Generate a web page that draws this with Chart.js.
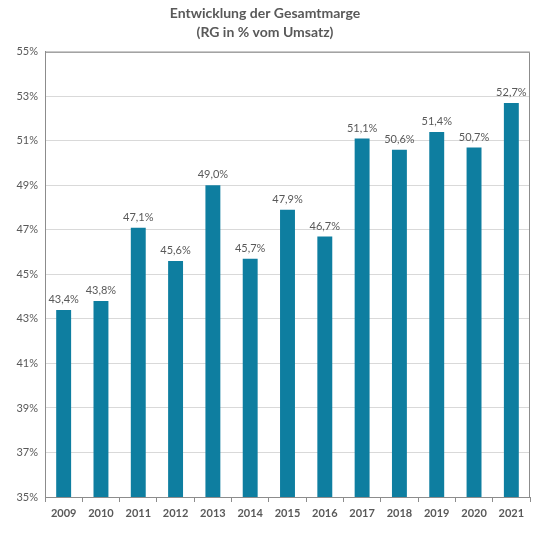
<!DOCTYPE html>
<html>
<head>
<meta charset="utf-8">
<script src="https://cdn.jsdelivr.net/npm/chart.js@4"></script>
<style>
  html, body { margin: 0; padding: 0; background: #fff; }
  #wrap { width: 540px; height: 543px; }
</style>
</head>
<body>
<div id="wrap"><canvas id="margeChart"></canvas></div>
<script>
// Werte
const years = ['2009', '2010', '2011', '2012', '2013', '2014', '2015', '2016', '2017', '2018', '2019', '2020', '2021'];
const marge = [43.4, 43.8, 47.1, 45.6, 49.0, 45.7, 47.9, 46.7, 51.1, 50.6, 51.4, 50.7, 52.7];
const titleLines = ['Entwicklung der Gesamtmarge', '(RG in % vom Umsatz)'];

const textGray = '#595959';
const fmt = v => v.toFixed(1).replace('.', ',') + '%';

// Werte über den Balken
const barLabels = {
    id: 'barLabels',
    afterDatasetsDraw(chart) {
        const ctx = chart.ctx;
        const meta = chart.getDatasetMeta(0);
        ctx.save();
        ctx.font = '11px Lato';
        ctx.fillStyle = textGray;
        ctx.textAlign = 'center';
        ctx.textBaseline = 'bottom';
        meta.data.forEach((bar, i) => {
            ctx.fillText(fmt(marge[i]), bar.x, bar.y - 5);
        });
        ctx.restore();
    }
};

// Rahmen oben und rechts
const frame = {
    id: 'frame',
    afterDraw(chart) {
        const { ctx, chartArea: a } = chart;
        ctx.save();
        ctx.strokeStyle = '#8c8c8c';
        ctx.lineWidth = 1;
        ctx.beginPath();
        ctx.moveTo(a.left, a.top + 0.5);
        ctx.lineTo(a.right - 0.5, a.top + 0.5);
        ctx.lineTo(a.right - 0.5, a.bottom);
        ctx.stroke();
        ctx.restore();
    }
};

const ctx = document.getElementById('margeChart').getContext('2d');
new Chart(ctx, {
    type: 'bar',
    data: {
        labels: years,
        datasets: [{
            data: marge,
            backgroundColor: '#0e7ea0',
            barPercentage: 0.4,
            categoryPercentage: 1
        }]
    },
    options: {
        responsive: true,
        maintainAspectRatio: false,
        animation: false,
        layout: { padding: { top: 0, right: 10, bottom: 0, left: 0 } },
        plugins: {
            legend: { display: false },
            tooltip: { enabled: false },
            title: {
                display: true,
                text: titleLines,
                color: textGray,
                font: { family: 'Lato', size: 14, weight: 'bold', lineHeight: 1.35 },
                padding: { top: 4, bottom: 10 }
            }
        },
        scales: {
            x: {
                afterFit(scale) { scale.height = 46; },
                grid: {
                    display: true,
                    drawOnChartArea: false,
                    offset: true,
                    tickLength: 5,
                    color: '#8c8c8c'
                },
                border: { color: '#8c8c8c' },
                ticks: {
                    padding: 5,
                    color: textGray,
                    font: { family: 'Lato', size: 11, weight: 'bold' }
                }
            },
            y: {
                min: 35,
                max: 55,
                afterFit(scale) { scale.width = 45; },
                grid: { color: '#d9d9d9', drawTicks: false },
                border: { color: '#8c8c8c' },
                ticks: {
                    stepSize: 2,
                    padding: 7,
                    color: textGray,
                    font: { family: 'Lato', size: 11 },
                    callback: v => v + '%'
                }
            }
        }
    },
    plugins: [barLabels, frame]
});
</script>
</body>
</html>
